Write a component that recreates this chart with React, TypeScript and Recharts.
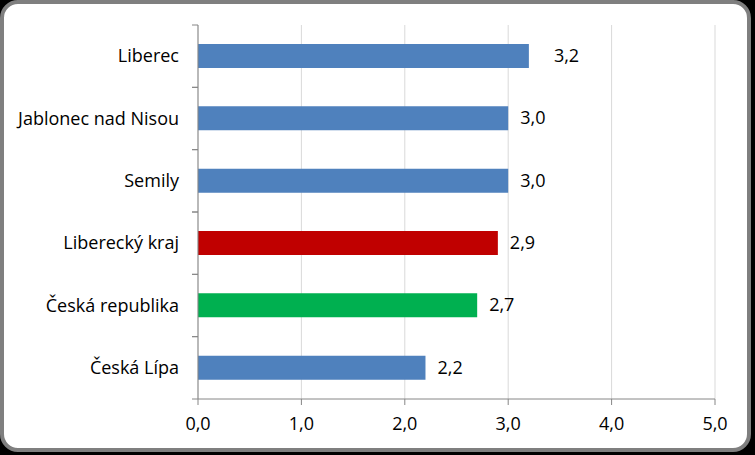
import React from 'react';
import { BarChart, Bar, XAxis, YAxis, CartesianGrid, Cell, LabelList } from 'recharts';

const categories = ['Liberec', 'Jablonec nad Nisou', 'Semily', 'Liberecký kraj', 'Česká republika', 'Česká Lípa'];
const values = [3.2, 3.0, 3.0, 2.9, 2.7, 2.2];
const barColors = ['#4f81bd', '#4f81bd', '#4f81bd', '#c00000', '#00b050', '#4f81bd'];
const xTicks = [0, 1, 2, 3, 4, 5];

const data = categories.map((name, i) => ({ name, value: values[i] }));

const FONT = '"Open Sans", Lato, sans-serif';
const FS = 18;
const AXIS = '#868686';

const fmt = (v: number) => v.toFixed(1).replace('.', ',');

// category tick: label at centre, small tick marks on the band edges like Excel
const CategoryTick = (props: any) => {
	const { x, y, payload } = props;
	const half = payload.offset || 0;
	return (
		<g>
			<line x1={198} x2={192} y1={y - half} y2={y - half} stroke={AXIS} />
			<line x1={198} x2={192} y1={y + half} y2={y + half} stroke={AXIS} />
			<text x={x} y={y} dy={6} textAnchor="end" fontSize={FS} fontFamily={FONT} fill="#000">
				{payload.value}
			</text>
		</g>
	);
};

// excel pushed the first label a bit further out
const ValueLabel = (props: any) => {
	const { x, y, width, height, value, index } = props;
	const gap = index === 0 ? 25 : 12;
	return (
		<text x={x + width + gap} y={y + height / 2} dy={6} fontSize={FS} fontFamily={FONT} fill="#000">
			{fmt(Number(value))}
		</text>
	);
};

const App: React.FC = () => {
	return (
		<div style={{ position: 'absolute', left: 0, top: 0, width: 755, height: 455, background: '#000' }}>
			<div
				style={{
					position: 'absolute',
					left: 0,
					top: 0,
					width: 751,
					height: 452,
					boxSizing: 'border-box',
					border: '4px solid #7f7f7f',
					borderRadius: 18,
					background: '#fff',
				}}
			/>
			<div style={{ position: 'absolute', left: 0, top: 0 }}>
				<BarChart
					width={755}
					height={455}
					data={data}
					layout="vertical"
					margin={{ top: 25, right: 40, left: 0, bottom: 0 }}
				>
					<CartesianGrid horizontal={false} stroke="#d9d9d9" />
					<XAxis
						type="number"
						domain={[0, 5]}
						ticks={xTicks}
						tickFormatter={fmt}
						height={56}
						stroke={AXIS}
						tickSize={6}
						tickMargin={12}
						tick={{ fill: '#000', fontSize: FS, fontFamily: FONT }}
					/>
					<YAxis
						type="category"
						dataKey="name"
						width={198}
						stroke={AXIS}
						tickLine={false}
						tickSize={6}
						tickMargin={13}
						tick={<CategoryTick />}
					/>
					<Bar dataKey="value" barSize={24} isAnimationActive={false}>
						{data.map((d, i) => (
							<Cell key={d.name} fill={barColors[i]} />
						))}
						<LabelList dataKey="value" content={<ValueLabel />} />
					</Bar>
				</BarChart>
			</div>
		</div>
	);
};

export default App;
